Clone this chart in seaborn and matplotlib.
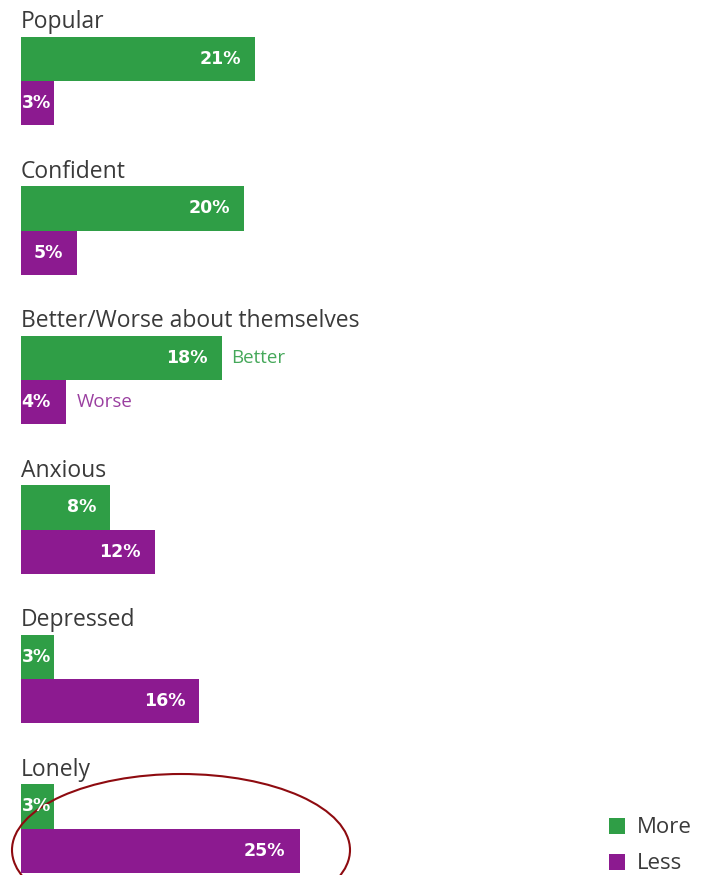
import matplotlib
matplotlib.use("Agg")
import matplotlib.pyplot as plt
from matplotlib.patches import Ellipse
from matplotlib.lines import Line2D
import seaborn as sns
import pandas as pd

# Share of young people feeling more / less of each emotion
categories = ["Popular", "Confident", "Better/Worse about themselves",
              "Anxious", "Depressed", "Lonely"]
more_values = [21, 20, 18, 8, 3, 3]
less_values = [3, 5, 4, 12, 16, 25]
series_names = ["More", "Less"]

GREEN = "#2f9e46"
PURPLE = "#8c1a90"
TEXT = "#3a3a3a"

sns.set_theme(style="white")
plt.rcParams["font.family"] = ["Open Sans", "DejaVu Sans"]

rows = []
for cat, m, l in zip(categories, more_values, less_values):
    rows.append({"group": cat, "series": "More", "value": m})
    rows.append({"group": cat, "series": "Less", "value": l})
df = pd.DataFrame(rows)

fig = plt.figure(figsize=(7.01, 8.75), dpi=100)
ax = fig.add_axes([0, 0, 1, 1])

BAR_W = 0.589
sns.barplot(data=df, y="group", x="value", hue="series", order=categories,
            hue_order=series_names, palette={"More": GREEN, "Less": PURPLE},
            orient="h", width=BAR_W, dodge=True, errorbar=None,
            linewidth=0, saturation=1, legend=False, ax=ax)

# pixel-based frame: 11.14 px per percentage point, bars start 21 px in
px_per_unit = 11.14
ax.set_xlim(-21 / px_per_unit, (701 - 21) / px_per_unit)
ax.set_ylim((875 - 81) / 149.5, -81 / 149.5)
ax.axis("off")

VAL_FONT = dict(family="DejaVu Sans", fontsize=12.5, fontweight="bold",
                color="white")
off = BAR_W / 4
for i, cat in enumerate(categories):
    # group title above the pair of bars
    ax.text(0, i - BAR_W / 2 - 0.06, cat, ha="left", va="baseline",
            fontsize=16.5, color=TEXT)
    for val, dy in ((more_values[i], -off), (less_values[i], off)):
        label = f"{val}%"
        if val <= 4:
            ax.text(0.05, i + dy, label, ha="left", va="center", **VAL_FONT)
        else:
            ax.text(val - 1.25, i + dy, label, ha="right", va="center",
                    **VAL_FONT)

# side notes for the Better/Worse pair
bi = categories.index("Better/Worse about themselves")
ax.text(more_values[bi] + 0.9, bi - off, "Better", ha="left", va="center",
        fontsize=13.5, color="#45a85a")
ax.text(less_values[bi] + 1.0, bi + off, "Worse", ha="left", va="center",
        fontsize=13.5, color="#9a3fa0")

# highlight around the Lonely row
li = categories.index("Lonely")
ell = Ellipse(((181 - 21) / px_per_unit, li + (850 - 828.5) / 149.5),
              width=338 / px_per_unit, height=152 / 149.5,
              fill=False, edgecolor="#8e0b10", linewidth=1.5, clip_on=False)
ax.add_patch(ell)

handles = [Line2D([0], [0], marker="s", linestyle="none", markersize=11,
                  markerfacecolor=c, markeredgewidth=0)
           for c in (GREEN, PURPLE)]
leg = ax.legend(handles, series_names, loc="lower left",
                bbox_to_anchor=(592.6 / 701, 1 - 890 / 875),
                frameon=False, fontsize=16, handlelength=0.8,
                handletextpad=0.5, labelspacing=0.68, borderpad=0.2)
for t in leg.get_texts():
    t.set_color(TEXT)

fig.savefig("out.png", dpi=100, facecolor="white")
